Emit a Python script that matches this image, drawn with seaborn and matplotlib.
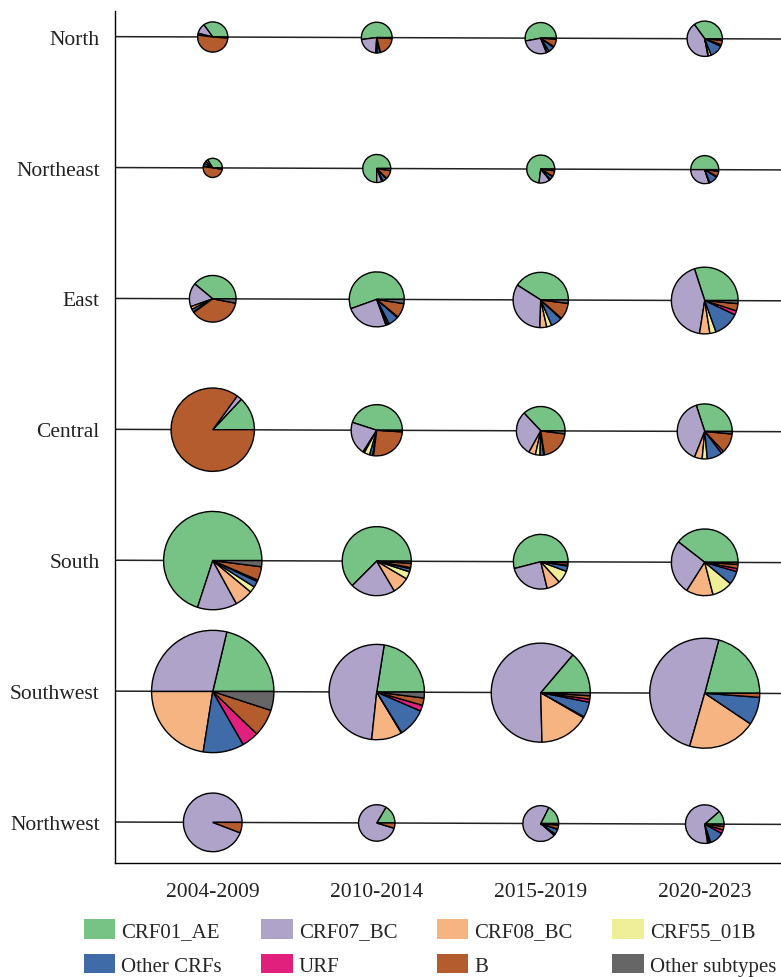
import numpy as np
import pandas as pd
import seaborn as sns
import matplotlib.pyplot as plt
from matplotlib.patches import Patch

regions = ["North", "Northeast", "East", "Central", "South", "Southwest", "Northwest"]
periods = ["2004-2009", "2010-2014", "2015-2019", "2020-2023"]
subtypes = ["CRF01_AE", "CRF07_BC", "CRF08_BC", "CRF55_01B",
            "Other CRFs", "URF", "B", "Other subtypes"]

# number of sequences per region (rows) and period (columns)
north_n = [57, 59, 61, 78]
northeast_n = [23, 49, 49, 49]
east_n = [136, 189, 191, 278]
central_n = [434, 164, 148, 189]
south_n = [604, 298, 187, 278]
southwest_n = [935, 568, 613, 756]
northwest_n = [215, 83, 80, 93]

# subtype shares per period, same order as `subtypes`
north = [
    [0.35, 0.11, 0.0, 0.0, 0.02, 0.0, 0.51, 0.01],
    [0.52, 0.22, 0.01, 0.005, 0.03, 0.005, 0.20, 0.01],
    [0.53, 0.28, 0.01, 0.02, 0.06, 0.01, 0.08, 0.01],
    [0.35, 0.43, 0.005, 0.025, 0.12, 0.015, 0.04, 0.015],
]
northeast = [
    [0.34, 0.04, 0.04, 0.0, 0.05, 0.01, 0.50, 0.02],
    [0.75, 0.06, 0.01, 0.005, 0.045, 0.005, 0.10, 0.025],
    [0.73, 0.13, 0.005, 0.005, 0.04, 0.005, 0.065, 0.02],
    [0.50, 0.30, 0.005, 0.005, 0.10, 0.01, 0.06, 0.02],
]
east = [
    [0.39, 0.165, 0.02, 0.0, 0.02, 0.005, 0.37, 0.03],
    [0.555, 0.25, 0.01, 0.01, 0.06, 0.005, 0.085, 0.025],
    [0.41, 0.335, 0.04, 0.03, 0.065, 0.005, 0.095, 0.02],
    [0.30, 0.425, 0.05, 0.03, 0.125, 0.02, 0.035, 0.015],
]
central = [
    [0.13, 0.02, 0.0, 0.0, 0.0, 0.0, 0.85, 0.0],
    [0.45, 0.21, 0.01, 0.035, 0.02, 0.005, 0.26, 0.01],
    [0.37, 0.30, 0.045, 0.03, 0.025, 0.005, 0.205, 0.02],
    [0.30, 0.39, 0.045, 0.03, 0.09, 0.015, 0.115, 0.015],
]
south = [
    [0.70, 0.13, 0.06, 0.02, 0.02, 0.005, 0.045, 0.02],
    [0.625, 0.21, 0.08, 0.035, 0.015, 0.005, 0.02, 0.01],
    [0.54, 0.248, 0.08, 0.075, 0.032, 0.005, 0.015, 0.005],
    [0.395, 0.265, 0.13, 0.10, 0.065, 0.015, 0.02, 0.01],
]
southwest = [
    [0.213, 0.287, 0.225, 0.0, 0.108, 0.045, 0.072, 0.05],
    [0.225, 0.508, 0.103, 0.002, 0.097, 0.02, 0.025, 0.02],
    [0.138, 0.616, 0.162, 0.003, 0.05, 0.01, 0.011, 0.01],
    [0.209, 0.497, 0.20, 0.0, 0.082, 0.0, 0.012, 0.0],
]
northwest = [
    [0.0, 0.942, 0.0, 0.0, 0.0, 0.0, 0.058, 0.0],
    [0.165, 0.788, 0.0, 0.0, 0.0, 0.0, 0.047, 0.0],
    [0.176, 0.71, 0.01, 0.005, 0.045, 0.005, 0.035, 0.014],
    [0.115, 0.66, 0.015, 0.01, 0.12, 0.03, 0.03, 0.02],
]

shares = dict(zip(regions, [north, northeast, east, central, south, southwest, northwest]))
totals = dict(zip(regions, [north_n, northeast_n, east_n, central_n, south_n, southwest_n, northwest_n]))

sns.set_theme(style="white")
plt.rcParams['font.family'] = ['Liberation Serif', 'DejaVu Serif']
# muted Accent-like colours
colors = sns.color_palette(["#77c386", "#afa3ca", "#f6b483", "#f0ef99",
                            "#3f6ca8", "#e0207c", "#b55c2e", "#666666"])

W, H = 781, 978
fig = plt.figure(figsize=(W / 100, H / 100), dpi=100)
ax = fig.add_axes([115 / W, 114 / H, 1 - 115 / W, 852 / H])

xmin, xmax = -0.596, 3.465
tilt = 0.018  # the row lines drop slightly to the right
row_y = {r: len(regions) - 1 - i for i, r in enumerate(regions)}

def line_y(region, x):
    return row_y[region] - tilt * (x - xmin) / (xmax - xmin)

# row guide lines
lines = pd.DataFrame([
    {"region": r, "x": x, "y": line_y(r, x)} for r in regions for x in (xmin, xmax)
])
sns.lineplot(data=lines, x="x", y="y", units="region", estimator=None,
             color="#222222", lw=1.1, ax=ax)

ax.set_xlim(xmin, xmax)
ax.set_ylim(-0.313, 6.196)
ax.set_xticks(range(len(periods)))
ax.set_xticklabels(periods, fontsize=15.5)
ax.set_yticks([row_y[r] for r in regions])
ax.set_yticklabels(regions, fontsize=15.5)
ax.set_xlabel("")
ax.set_ylabel("")
ax.tick_params(axis="both", length=0, colors="#222222")
ax.tick_params(axis="y", pad=11)
ax.tick_params(axis="x", pad=14)
sns.despine(ax=ax)
for s in ("left", "bottom"):
    ax.spines[s].set_color("black")
    ax.spines[s].set_linewidth(1.0)

# one small pie per region and period, diameter grows with sqrt(n)
px_per_sqrt_n = 4.0
for region in regions:
    for j, period in enumerate(periods):
        vals = np.array(shares[region][j])
        keep = vals > 0
        cx, cy = ax.transData.transform((j, line_y(region, j)))
        d = px_per_sqrt_n * np.sqrt(totals[region][j])
        pax = fig.add_axes([(cx - d / 2) / W, (cy - d / 2) / H, d / W, d / H])
        wedges, _ = pax.pie(vals[keep], colors=[c for c, k in zip(colors, keep) if k],
                            startangle=0, counterclock=True, radius=1,
                            wedgeprops=dict(edgecolor="black", linewidth=1.0))
        for w in wedges:
            w.set_clip_on(False)
        pax.set_xlim(-1, 1)
        pax.set_ylim(-1, 1)
        pax.set_aspect("equal")
        pax.axis("off")

# legend filled row by row (matplotlib fills columns first)
handles = [Patch(facecolor=c, edgecolor="none") for c in colors]
order = [0, 4, 1, 5, 2, 6, 3, 7]
fig.legend([handles[i] for i in order], [subtypes[i] for i in order], ncol=4, loc="center",
           bbox_to_anchor=(430 / W, 29.5 / H), frameon=False, fontsize=15,
           handlelength=1.5, handleheight=1.05, handletextpad=0.3,
           columnspacing=1.9, labelspacing=0.6)

fig.savefig("out.png", dpi=100)
